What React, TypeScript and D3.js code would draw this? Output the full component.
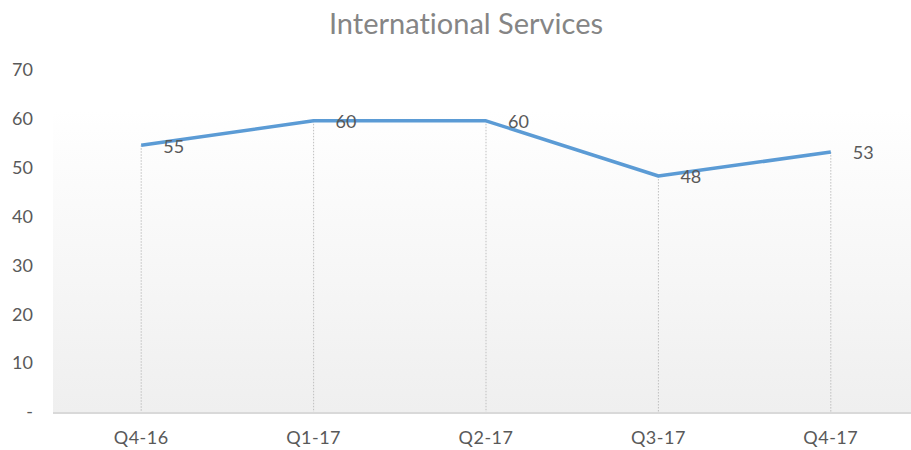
import React, { useRef, useEffect } from "react";
import * as d3 from "d3";

const categories = ["Q4-16", "Q1-17", "Q2-17", "Q3-17", "Q4-17"];
const values = [54.6, 59.6, 59.6, 48.3, 53.2];
const valueLabels = ["55", "60", "60", "48", "53"];
const yTicks = [0, 10, 20, 30, 40, 50, 60, 70];

const App = () => {
  const ref = useRef<SVGSVGElement>(null);

  useEffect(() => {
    const svg = d3.select(ref.current);
    svg.selectAll("*").remove();

    const fullWidth = 911;
    const fullHeight = 450;
    const margin = { top: 70, right: -6, bottom: 38, left: 55 };
    const width = fullWidth - margin.left - margin.right;
    const height = fullHeight - margin.top - margin.bottom;
    const font = "Lato, 'Open Sans', sans-serif";

    svg.attr("width", fullWidth).attr("height", fullHeight);

    const defs = svg.append("defs");
    const grad = defs
      .append("linearGradient")
      .attr("id", "bg")
      .attr("x1", 0)
      .attr("y1", 0)
      .attr("x2", 0)
      .attr("y2", 1);
    grad.append("stop").attr("offset", "0%").attr("stop-color", "#ffffff");
    grad.append("stop").attr("offset", "100%").attr("stop-color", "#efefef");

    svg
      .append("text")
      .attr("x", 466)
      .attr("y", 34)
      .attr("text-anchor", "middle")
      .style("font-family", font)
      .style("font-size", "29px")
      .style("font-variant-ligatures", "none")
      .style("fill", "#858585")
      .text("International Services");

    const g = svg
      .append("g")
      .attr("transform", `translate(${margin.left},${margin.top})`);

    const x = d3.scaleBand().domain(categories).range([0, width]);
    const y = d3.scaleLinear().domain([0, 70]).range([height, 0]);

    g.append("rect")
      .attr("x", -2)
      .attr("y", y(62))
      .attr("width", width + 2)
      .attr("height", height - y(62))
      .attr("fill", "url(#bg)");

    // y tick labels
    g.selectAll(".ytick")
      .data(yTicks)
      .enter()
      .append("text")
      .attr("x", -22)
      .attr("y", (d) => y(d))
      .attr("dy", "0.35em")
      .attr("text-anchor", "end")
      .style("font-family", font)
      .style("font-size", "18px")
      .style("fill", "#595959")
      .text((d) => (d === 0 ? "-" : String(d)));

    // x axis line
    g.append("line")
      .attr("x1", -2)
      .attr("x2", width)
      .attr("y1", height + 1)
      .attr("y2", height + 1)
      .attr("stroke", "#d9d9d9")
      .attr("stroke-width", 2);

    g.selectAll(".xtick")
      .data(categories)
      .enter()
      .append("text")
      .attr("x", (d) => x(d)! + x.bandwidth() / 2)
      .attr("y", height + 32)
      .attr("text-anchor", "middle")
      .style("font-family", font)
      .style("font-size", "18px")
      .style("letter-spacing", "0.5px")
      .style("fill", "#595959")
      .text((d) => d);

    const cx = (i: number) => x(categories[i])! + x.bandwidth() / 2;

    // drop lines
    g.selectAll(".drop")
      .data(values)
      .enter()
      .append("line")
      .attr("x1", (d, i) => cx(i))
      .attr("x2", (d, i) => cx(i))
      .attr("y1", (d) => y(d))
      .attr("y2", height)
      .attr("stroke", "#bfbfbf")
      .attr("stroke-width", 1)
      .attr("stroke-dasharray", "1.5,1.5");

    const line = d3
      .line<number>()
      .x((d, i) => cx(i))
      .y((d) => y(d));

    g.append("path")
      .datum(values)
      .attr("d", line)
      .attr("fill", "none")
      .attr("stroke", "#5b9bd5")
      .attr("stroke-width", 3.5)
      .attr("stroke-linejoin", "round");

    g.selectAll(".label")
      .data(values)
      .enter()
      .append("text")
      .attr("x", (d, i) => cx(i) + 22)
      .attr("y", (d) => y(d) + 1)
      .attr("dy", "0.35em")
      .style("font-family", font)
      .style("font-size", "18px")
      .style("fill", "#595959")
      .text((d, i) => valueLabels[i]);
  }, []);

  return (
    <div style={{ position: "absolute", left: 0, top: 0, width: 911, height: 450, overflow: "hidden", background: "#fff" }}>
      <svg ref={ref} style={{ display: "block" }} />
    </div>
  );
};

export default App;
